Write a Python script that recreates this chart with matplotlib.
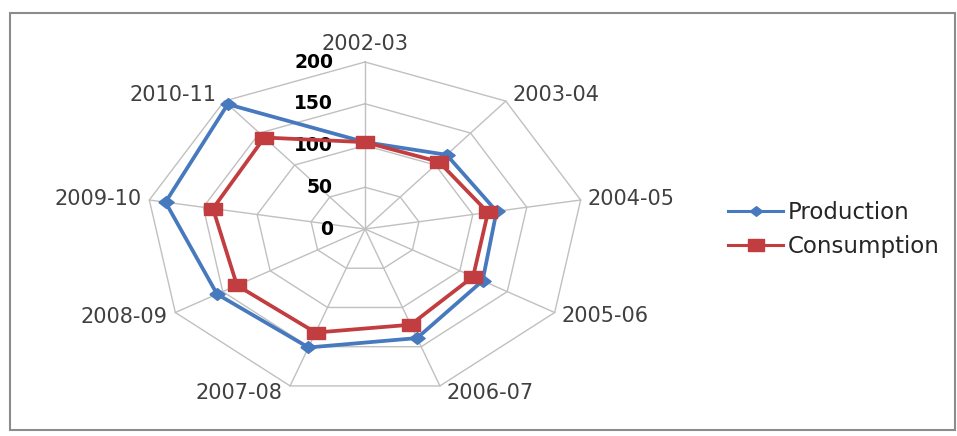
import numpy as np
import matplotlib
matplotlib.use("Agg")
import matplotlib.pyplot as plt
from matplotlib.patches import Rectangle
from matplotlib.lines import Line2D

# Fiscal years around the radar
categories = ["2002-03", "2003-04", "2004-05", "2005-06", "2006-07",
              "2007-08", "2008-09", "2009-10", "2010-11"]
production = [104, 116, 122, 124, 139, 151, 156, 185, 195]
consumption = [104, 105, 114, 114, 122, 132, 135, 141, 143]
ring_values = [0, 50, 100, 150, 200]

W, H = 957, 436
fig = plt.figure(figsize=(W / 100, H / 100), dpi=100)
ax = fig.add_axes([0, 0, 1, 1])
ax.axis("off")

# radar centre and full-scale radius in pixels (horizontally wider than tall)
cx, cy = 365, H - 229
rx, ry = 219, 167
rmax = ring_values[-1]
ax.set_xlim(-cx * rmax / rx, (W - cx) * rmax / rx)
ax.set_ylim(-cy * rmax / ry, (H - cy) * rmax / ry)

n = len(categories)
theta = np.deg2rad(np.arange(n) * 360.0 / n)


def to_xy(r):
    r = np.asarray(r, dtype=float)
    return r * np.sin(theta), r * np.cos(theta)


grid_color = "#C0C0C0"
# polygon rings
for v in ring_values[1:]:
    gx, gy = to_xy(np.full(n, v))
    ax.plot(np.append(gx, gx[0]), np.append(gy, gy[0]), color=grid_color,
            lw=1.0, zorder=1)
# spokes
sx, sy = to_xy(np.full(n, rmax))
for x1, y1 in zip(sx, sy):
    ax.plot([0, x1], [0, y1], color=grid_color, lw=1.0, zorder=1)

# ring value labels along the top spoke
for v in ring_values:
    ax.annotate(str(v), xy=(0, v), xytext=(-32, 0), textcoords="offset pixels",
                ha="right", va="center", fontsize=13.5, fontweight="bold",
                color="black", zorder=3)

# category labels just outside the outer ring
for lab, x1, y1, t in zip(categories, sx, sy, theta):
    s, c = np.sin(t), np.cos(t)
    if abs(s) < 0.1:
        ha, dx = "center", 0
    elif s > 0:
        ha, dx = "left", 7
    else:
        ha, dx = "right", -8
    if c > 0.9:
        va, dy = "bottom", 8
    else:
        va, dy = "center", 8 * c
    ax.annotate(lab, xy=(x1, y1), xytext=(dx, dy), textcoords="offset pixels",
                ha=ha, va=va, fontsize=15, color="#404040", zorder=3)

blue = "#4679BD"
red = "#C23D3F"
diamond = [(-1.3, 0), (0, 1), (1.3, 0), (0, -1), (-1.3, 0)]
box = [(-1.5, -1), (1.5, -1), (1.5, 1), (-1.5, 1), (-1.5, -1)]

px, py = to_xy(production)
ax.plot(np.append(px, px[0]), np.append(py, py[0]), color=blue, lw=2.7,
        zorder=4)
ax.plot(px, py, ls="none", marker=diamond, ms=11, color=blue, zorder=5)

qx, qy = to_xy(consumption)
ax.plot(np.append(qx, qx[0]), np.append(qy, qy[0]), color=red, lw=2.7,
        zorder=6)
ax.plot(qx, qy, ls="none", marker=box, ms=13, color=red, zorder=7)

handles = [
    Line2D([], [], color=blue, lw=2.2, marker=diamond, ms=9),
    Line2D([], [], color=red, lw=2.2, marker=box, ms=12),
]
fig.legend(handles, ["Production", "Consumption"], loc="center left",
           bbox_to_anchor=(717 / W, (H - 229.5) / H), frameon=False,
           fontsize=16.5, handlelength=2.4, handletextpad=0.2, borderpad=0,
           labelspacing=0.45, labelcolor="#262626")

# chart border
fig.add_artist(Rectangle((10 / W, (H - 430) / H), 945 / W, 417 / H,
                         transform=fig.transFigure, fill=False,
                         ec="#8C8C8C", lw=1.5))

fig.savefig("out.png", dpi=100)
